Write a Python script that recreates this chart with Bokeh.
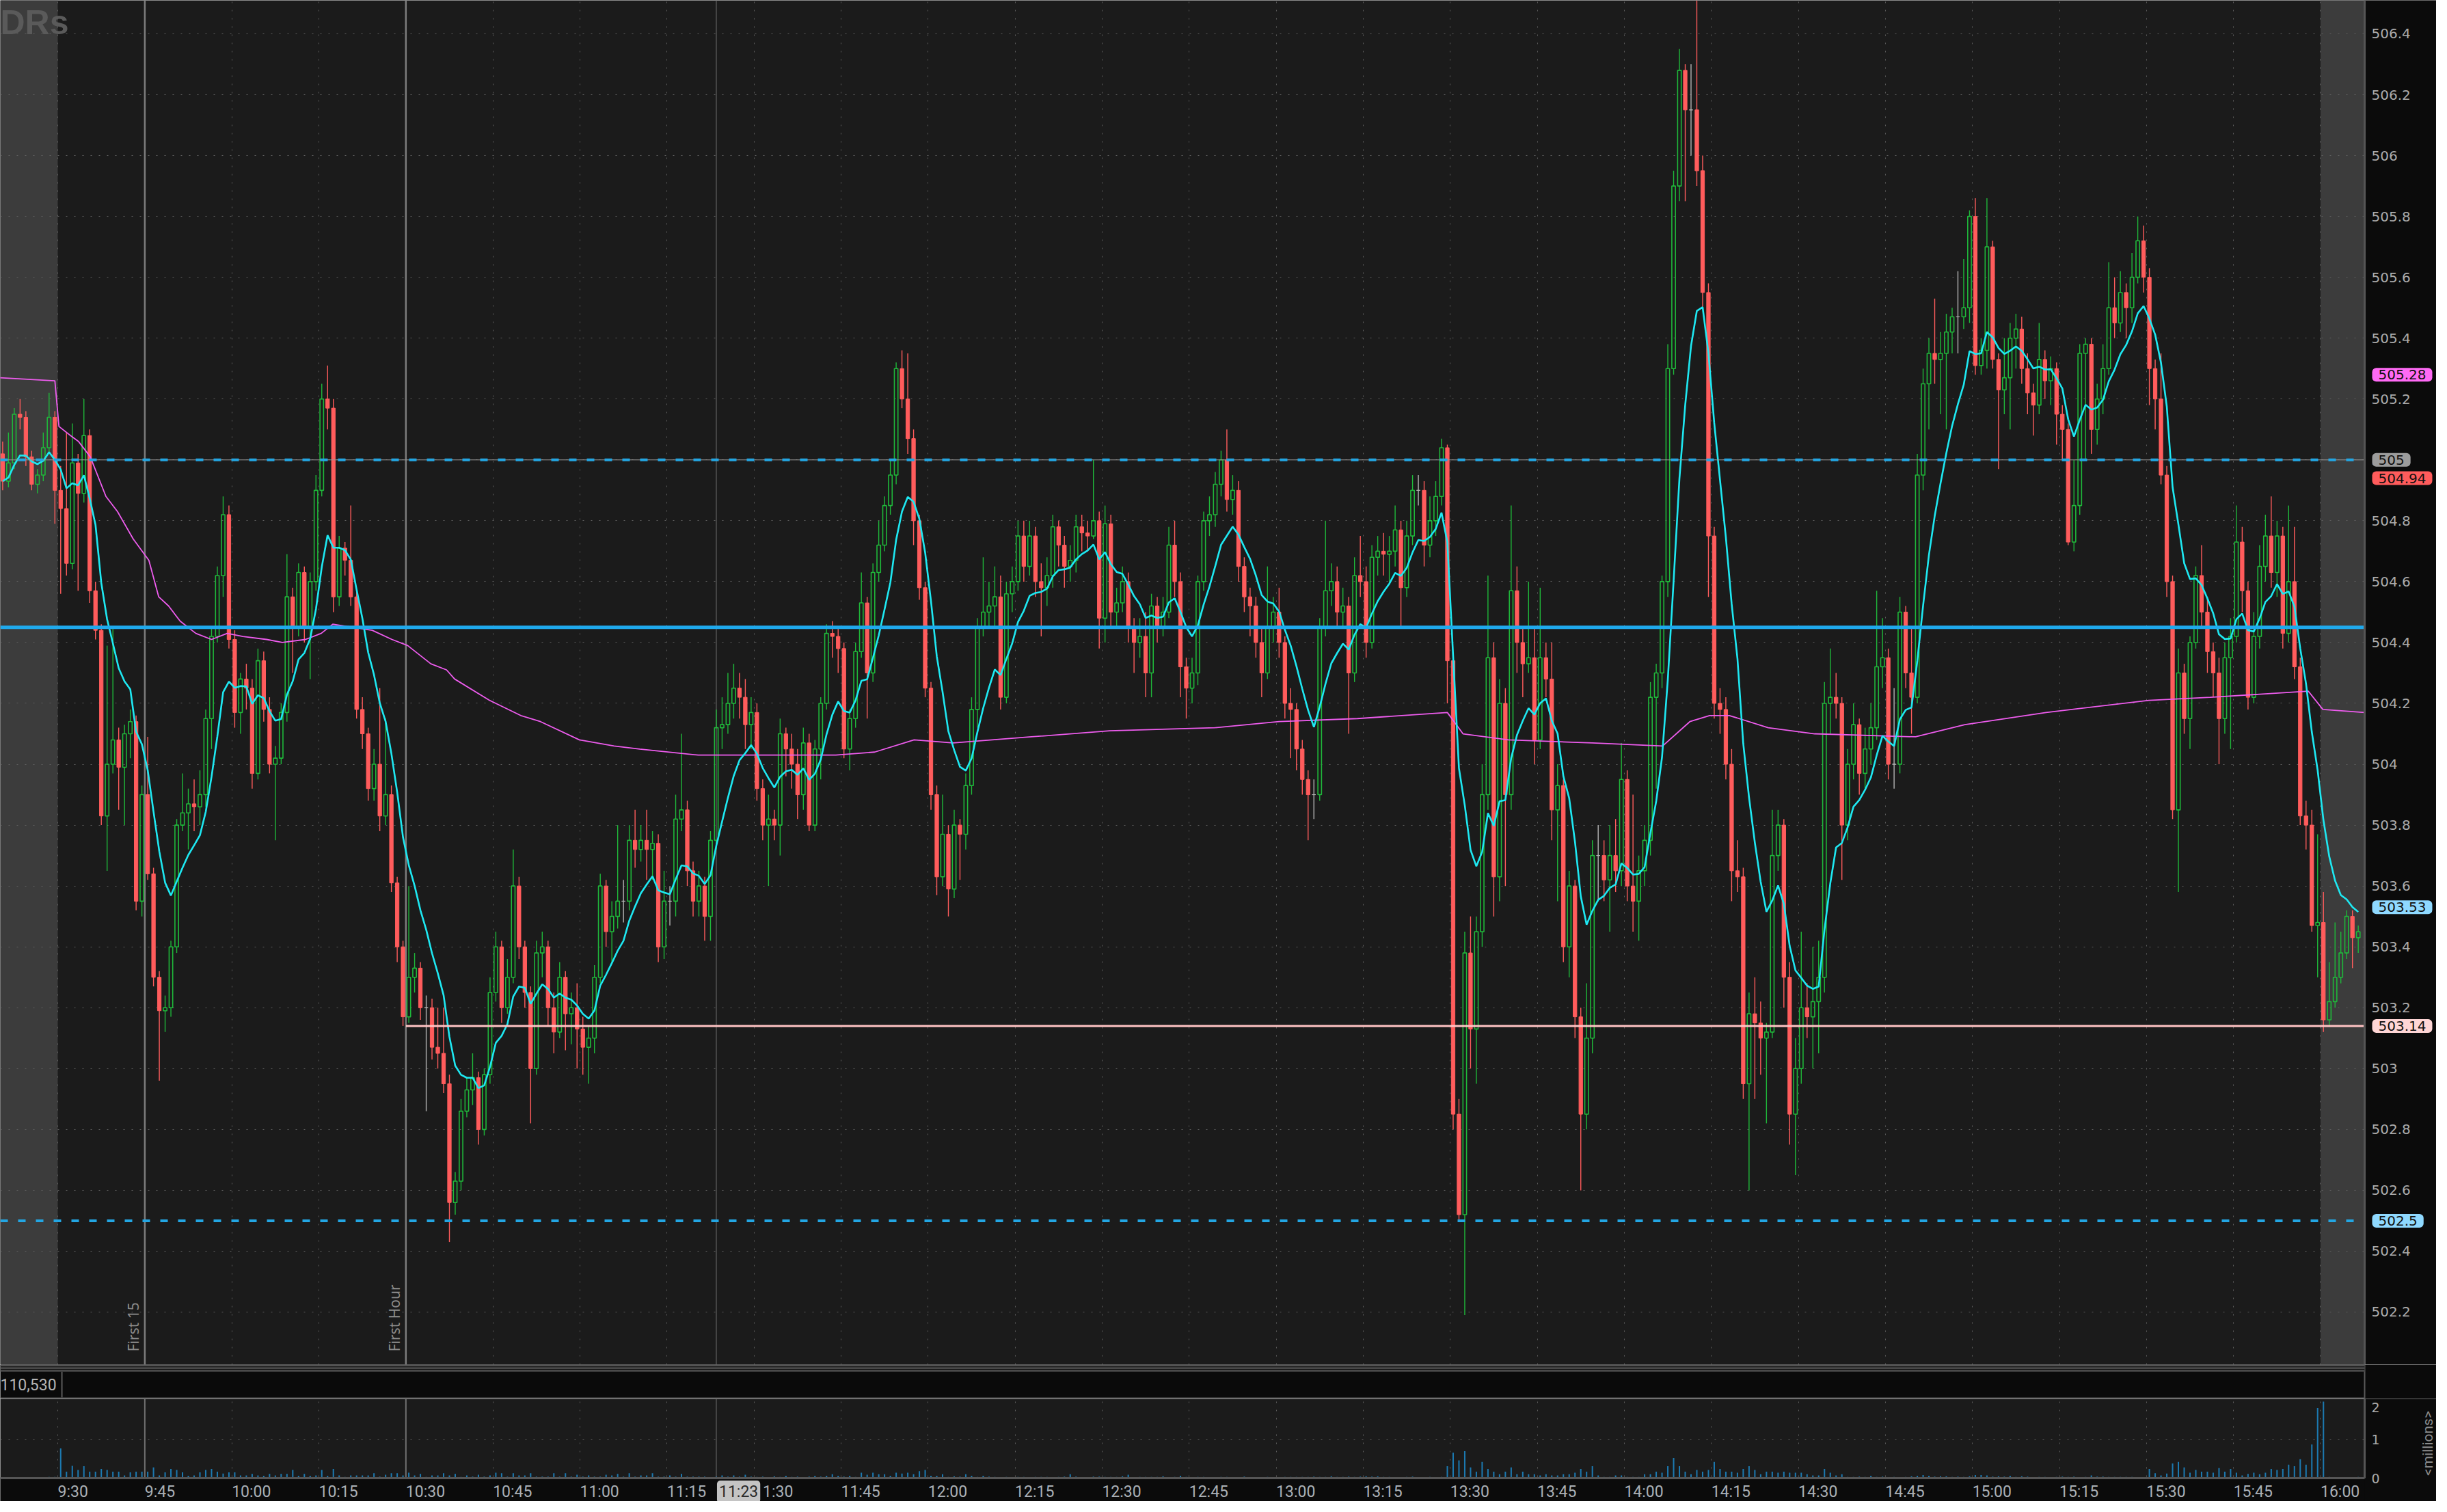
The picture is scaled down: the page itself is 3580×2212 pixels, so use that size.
import math
from bokeh.plotting import figure
from bokeh.layouts import column
from bokeh.models import (ColumnDataSource, FixedTicker, Span, Label, LabelSet,
                          BoxAnnotation, Range1d)
from bokeh.embed import file_html
from bokeh.resources import INLINE
from bokeh.core.properties import value

# ---------------- data (1-minute bars, minutes relative to 9:30) ----------------
first_minute = -10
first_open = 505.02

closes = [
    504.93, 504.99, 505.15, 505.14, 505.01, 504.92, 504.95, 505.04, 505.14, 504.90,
    504.84, 504.66, 504.99, 504.89, 505.08, 504.57, 504.44, 503.83, 504.00, 504.08,
    503.99, 504.10, 504.14, 503.55, 503.90, 503.64, 503.30, 503.19, 503.20, 503.40,
    503.80, 503.84, 503.87, 503.86, 503.90, 504.15, 504.42, 504.62, 504.82, 504.41,
    504.17, 504.28, 504.25, 503.97, 504.34, 504.18, 504.00, 504.02, 504.17, 504.55,
    504.45, 504.63, 504.45, 504.60, 504.90, 505.20, 505.17, 504.55, 504.71, 504.67,
    504.55, 504.18, 504.10, 503.92, 504.00, 503.83, 503.90, 503.61, 503.40, 503.17,
    503.30, 503.33, 503.20, 503.20, 503.07, 503.05, 502.95, 502.56, 502.63, 502.86,
    502.93, 502.97, 502.80, 502.98, 503.25, 503.40, 503.20, 503.30, 503.60, 503.40,
    503.25, 503.00, 503.38, 503.40, 503.20, 503.12, 503.30, 503.18, 503.20, 503.13,
    503.07, 503.10, 503.30, 503.60, 503.45, 503.50, 503.55, 503.55, 503.75, 503.72,
    503.75, 503.72, 503.74, 503.40, 503.55, 503.55, 503.82, 503.85, 503.65, 503.55,
    503.60, 503.50, 503.75, 504.12, 504.13, 504.20, 504.25, 504.22, 504.13, 504.17,
    503.92, 503.80, 503.82, 503.80, 504.10, 504.05, 504.00, 503.90, 504.07, 503.80,
    504.05, 504.20, 504.43, 504.42, 504.38, 504.05, 504.15, 504.37, 504.53, 504.30,
    504.63, 504.72, 504.85, 504.95, 505.30, 505.20, 505.07, 504.80, 504.58, 504.25,
    503.90, 503.63, 503.77, 503.59, 503.80, 503.77, 503.93, 504.18, 504.45, 504.50,
    504.52, 504.55, 504.22, 504.56, 504.60, 504.75, 504.65, 504.75, 504.60, 504.58,
    504.62, 504.78, 504.72, 504.65, 504.67, 504.78, 504.76, 504.75, 504.80, 504.48,
    504.79, 504.50, 504.53, 504.60, 504.45, 504.40, 504.42, 504.30, 504.52, 504.45,
    504.50, 504.72, 504.60, 504.32, 504.25, 504.30, 504.60, 504.80, 504.82, 504.92,
    505.00, 504.87, 504.90, 504.65, 504.55, 504.52, 504.40, 504.30, 504.45, 504.50,
    504.40, 504.20, 504.18, 504.05, 503.95, 503.90, 503.90, 504.45, 504.57, 504.60,
    504.50, 504.52, 504.30, 504.62, 504.60, 504.40, 504.68, 504.70, 504.69, 504.70,
    504.77, 504.58, 504.75, 504.90, 504.90, 504.72, 504.80, 504.88, 505.04, 504.34,
    502.85, 502.52, 503.38, 503.13, 503.45, 503.90, 504.35, 503.63, 504.20, 503.90,
    504.57, 504.40, 504.33, 504.35, 504.08, 504.35, 504.28, 503.85, 503.93, 503.40,
    503.60, 503.17, 502.85, 503.10, 503.70, 503.70, 503.62, 503.70, 503.65, 503.95,
    503.60, 503.55, 503.65, 503.75, 504.22, 504.30, 504.60, 505.30, 505.90, 506.28,
    506.15, 506.15, 505.95, 505.55, 504.75, 504.20, 504.18, 504.00, 503.65, 503.63,
    502.95, 503.18, 503.15, 503.10, 503.12, 503.70, 503.80, 503.30, 502.85, 503.00,
    503.20, 503.17, 503.22, 503.30, 504.20, 504.22, 504.20, 503.80, 504.00, 504.13,
    503.97, 504.05, 504.12, 504.32, 504.35, 504.00, 504.00, 504.50, 504.30, 504.22,
    504.95, 505.25, 505.35, 505.33, 505.35, 505.42, 505.47, 505.47, 505.50, 505.80,
    505.31, 505.36, 505.70, 505.33, 505.23, 505.27, 505.40, 505.43, 505.30, 505.22,
    505.18, 505.33, 505.26, 505.30, 505.15, 505.10, 504.73, 504.85, 505.35, 505.38,
    505.10, 505.20, 505.30, 505.50, 505.45, 505.55, 505.50, 505.60, 505.72, 505.60,
    505.30, 505.20, 504.95, 504.60, 503.85, 504.30, 504.15, 504.40, 504.62, 504.50,
    504.37, 504.30, 504.15, 504.35, 504.42, 504.73, 504.57, 504.22, 504.42, 504.65,
    504.75, 504.63, 504.75, 504.43, 504.60, 504.32, 503.83, 503.80, 503.47, 503.48,
    503.16, 503.22, 503.30, 503.38, 503.50, 503.43, 503.45,
]

highs = [
    505.06, 505.09, 505.17, 505.20, 505.16, 505.03, 504.97, 505.09, 505.22, 505.16,
    504.98, 505.09, 505.12, 505.02, 505.20, 505.10, 504.60, 504.46, 504.39, 504.45,
    504.12, 504.13, 504.18, 504.16, 503.93, 504.09, 503.66, 503.32, 503.24, 503.42,
    503.82, 503.97, 503.92, 503.95, 503.98, 504.18, 504.45, 504.65, 504.88, 504.85,
    504.44, 504.30, 504.33, 504.28, 504.38, 504.37, 504.22, 504.06, 504.20, 504.69,
    504.58, 504.66, 504.65, 504.63, 504.95, 505.25, 505.31, 505.20, 504.75, 504.73,
    504.85, 504.57, 504.22, 504.12, 504.05, 504.25, 504.15, 503.93, 503.63, 503.42,
    503.60, 503.38, 503.35, 503.24, 503.23, 503.20, 503.20, 502.98, 502.66, 502.90,
    502.97, 503.05, 502.99, 503.00, 503.30, 503.45, 503.42, 503.36, 503.72, 503.63,
    503.42, 503.27, 503.42, 503.45, 503.42, 503.25, 503.35, 503.32, 503.25, 503.28,
    503.17, 503.14, 503.34, 503.64, 503.62, 503.55, 503.80, 503.62, 503.80, 503.85,
    503.80, 503.85, 503.78, 503.77, 503.65, 503.60, 503.90, 504.10, 503.88, 503.68,
    503.65, 503.63, 503.78, 504.18, 504.22, 504.30, 504.33, 504.30, 504.28, 504.22,
    504.20, 503.95, 503.90, 503.85, 504.15, 504.12, 504.10, 504.05, 504.12, 504.10,
    504.08, 504.22, 504.46, 504.47, 504.45, 504.40, 504.18, 504.40, 504.63, 504.55,
    504.66, 504.80, 504.88, 505.00, 505.32, 505.36, 505.35, 505.10, 504.82, 504.60,
    504.27, 503.93, 503.90, 503.80, 503.85, 503.82, 503.97, 504.22, 504.48, 504.68,
    504.60, 504.65, 504.62, 504.60, 504.65, 504.80, 504.80, 504.80, 504.78, 504.66,
    504.68, 504.82, 504.80, 504.75, 504.72, 504.82, 504.82, 504.80, 505.00, 504.83,
    504.85, 504.82, 504.58, 504.65, 504.63, 504.48, 504.48, 504.50, 504.56, 504.55,
    504.55, 504.78, 504.80, 504.63, 504.35, 504.35, 504.62, 504.83, 504.88, 504.96,
    505.03, 505.10, 504.95, 504.93, 504.68, 504.58, 504.55, 504.45, 504.65, 504.55,
    504.58, 504.42, 504.25, 504.20, 504.08, 503.98, 503.95, 504.48, 504.80, 504.66,
    504.65, 504.58, 504.55, 504.68, 504.75, 504.65, 504.72, 504.75, 504.76, 504.75,
    504.85, 504.80, 504.80, 504.95, 504.95, 504.93, 504.88, 504.93, 505.07, 505.05,
    504.36, 502.90, 503.45, 503.50, 503.50, 504.00, 504.62, 504.40, 504.28, 504.25,
    504.85, 504.65, 504.45, 504.60, 504.45, 504.58, 504.40, 504.40, 504.00, 503.95,
    503.65, 503.62, 503.20, 503.28, 503.75, 503.80, 503.75, 503.80, 503.82, 504.07,
    503.98, 503.90, 503.70, 503.80, 504.27, 504.33, 504.62, 505.38, 505.95, 506.35,
    506.30, 506.30, 506.51, 506.00, 505.58, 504.78, 504.25, 504.22, 504.05, 503.75,
    503.66, 503.25, 503.30, 503.22, 503.15, 503.85, 503.85, 503.82, 503.35, 503.10,
    503.45, 503.28, 503.40, 503.42, 504.27, 504.38, 504.30, 504.22, 504.05, 504.20,
    504.15, 504.12, 504.20, 504.57, 504.48, 504.38, 504.25, 504.55, 504.52, 504.45,
    505.02, 505.30, 505.40, 505.53, 505.42, 505.48, 505.50, 505.62, 505.66, 505.82,
    505.86, 505.40, 505.86, 505.72, 505.35, 505.40, 505.45, 505.48, 505.47, 505.35,
    505.25, 505.45, 505.36, 505.34, 505.32, 505.18, 505.12, 505.00, 505.38, 505.40,
    505.40, 505.25, 505.38, 505.65, 505.60, 505.62, 505.58, 505.68, 505.80, 505.77,
    505.63, 505.33, 505.35, 504.98, 504.62, 504.38, 504.33, 504.42, 504.65, 504.72,
    504.55, 504.40, 504.35, 504.40, 504.48, 504.85, 504.78, 504.60, 504.50, 504.72,
    504.82, 504.88, 504.80, 504.78, 504.85, 504.78, 504.35, 503.88, 503.85, 503.77,
    503.58, 503.35, 503.48, 503.45, 503.52, 503.52, 503.47,
]

lows = [
    504.90, 504.91, 504.97, 505.10, 504.98, 504.90, 504.89, 504.93, 505.02, 504.79,
    504.56, 504.62, 504.64, 504.57, 504.86, 504.53, 504.41, 503.80, 503.65, 503.97,
    503.85, 503.80, 504.02, 503.52, 503.50, 503.62, 503.27, 502.96, 503.12, 503.17,
    503.38, 503.78, 503.72, 503.78, 503.80, 503.86, 504.05, 504.40, 504.55, 504.38,
    504.12, 504.10, 504.18, 503.92, 503.95, 504.14, 503.97, 503.75, 504.00, 504.14,
    504.30, 504.42, 504.40, 504.28, 504.57, 504.88, 505.10, 504.50, 504.52, 504.62,
    504.52, 504.15, 504.05, 503.88, 503.88, 503.78, 503.80, 503.58, 503.35, 503.14,
    503.15, 503.25, 503.16, 502.86, 503.03, 503.00, 502.92, 502.43, 502.52, 502.60,
    502.84, 502.88, 502.75, 502.78, 502.95, 503.22, 503.15, 503.18, 503.28, 503.36,
    503.20, 502.82, 502.98, 503.30, 503.14, 503.05, 503.10, 503.06, 503.08, 503.00,
    502.98, 502.95, 503.05, 503.28, 503.40, 503.35, 503.46, 503.48, 503.52, 503.66,
    503.68, 503.62, 503.62, 503.35, 503.36, 503.47, 503.50, 503.78, 503.60, 503.50,
    503.50, 503.42, 503.42, 503.72, 504.05, 504.10, 504.15, 504.15, 504.05, 504.05,
    503.88, 503.75, 503.60, 503.75, 503.70, 503.96, 503.92, 503.82, 503.85, 503.78,
    503.78, 503.95, 504.18, 504.35, 504.30, 504.02, 503.98, 504.12, 504.35, 504.15,
    504.27, 504.60, 504.70, 504.82, 504.92, 505.17, 505.02, 504.72, 504.54, 504.22,
    503.85, 503.57, 503.60, 503.50, 503.56, 503.62, 503.72, 503.90, 504.12, 504.42,
    504.45, 504.45, 504.18, 504.20, 504.50, 504.57, 504.60, 504.62, 504.55, 504.42,
    504.52, 504.58, 504.65, 504.58, 504.60, 504.63, 504.70, 504.70, 504.74, 504.38,
    504.40, 504.45, 504.45, 504.50, 504.40, 504.30, 504.35, 504.22, 504.22, 504.40,
    504.42, 504.48, 504.55, 504.22, 504.15, 504.20, 504.26, 504.57, 504.75, 504.78,
    504.88, 504.83, 504.82, 504.60, 504.50, 504.42, 504.35, 504.22, 504.28, 504.40,
    504.35, 504.15, 504.02, 503.98, 503.90, 503.75, 503.82, 503.88, 504.42, 504.52,
    504.45, 504.45, 504.10, 504.27, 504.55, 504.35, 504.38, 504.62, 504.62, 504.60,
    504.65, 504.45, 504.55, 504.72, 504.85, 504.65, 504.68, 504.75, 504.85, 504.20,
    502.80, 502.50, 502.19, 503.00, 502.95, 503.40, 503.85, 503.50, 503.55, 503.60,
    503.85, 504.30, 504.22, 504.30, 504.00, 504.05, 504.22, 503.75, 503.55, 503.35,
    503.30, 503.10, 502.60, 502.80, 503.05, 503.55, 503.55, 503.45, 503.58, 503.60,
    503.55, 503.45, 503.42, 503.60, 503.70, 503.92, 504.25, 504.55, 505.28, 505.85,
    505.85, 506.00, 505.90, 505.50, 504.55, 504.15, 504.10, 503.95, 503.55, 503.58,
    502.90, 502.60, 502.90, 502.98, 502.82, 503.10, 503.65, 503.20, 502.75, 502.65,
    502.95, 503.10, 503.00, 503.05, 503.25, 504.10, 504.15, 503.62, 503.75, 503.95,
    503.90, 503.92, 504.00, 504.08, 504.25, 503.95, 503.92, 503.97, 504.25, 504.10,
    504.20, 504.90, 505.10, 505.25, 505.15, 505.10, 505.35, 505.35, 505.43, 505.45,
    505.28, 505.28, 505.30, 505.30, 504.97, 505.15, 505.10, 505.30, 505.25, 505.15,
    505.08, 505.15, 505.20, 505.18, 505.05, 505.00, 504.72, 504.70, 504.82, 505.00,
    505.02, 505.05, 505.15, 505.28, 505.40, 505.42, 505.40, 505.45, 505.58, 505.55,
    505.18, 505.10, 504.92, 504.55, 503.82, 503.58, 504.10, 504.05, 504.38, 504.45,
    504.30, 504.22, 504.00, 504.10, 504.05, 504.40, 504.50, 504.18, 504.20, 504.38,
    504.60, 504.58, 504.55, 504.38, 504.40, 504.28, 503.80, 503.72, 503.45, 503.30,
    503.12, 503.14, 503.20, 503.28, 503.36, 503.33, 503.38,
]

# volume in units of 10,000 shares (i.e. hundredths of a million)
volume_10k = [
    1, 1, 1, 1, 1, 2, 1, 1, 3, 3,
    77, 17, 32, 21, 31, 17, 17, 24, 21, 17, 17, 7, 15, 17, 17,
    17, 28, 7, 15, 24, 21, 15, 6, 7, 15, 21, 24, 17, 12, 15,
    15, 7, 7, 11, 7, 6, 11, 7, 11, 11, 21, 6, 11, 6, 7,
    21, 6, 24, 7, 3, 7, 7, 7, 7, 13, 4, 9, 13, 13, 7,
    14, 7, 11, 3, 7, 7, 13, 7, 11, 3, 7, 4, 9, 4, 7,
    14, 13, 4, 13, 7, 7, 13, 4, 4, 4, 13, 4, 13, 4, 9,
    4, 7, 4, 4, 9, 7, 11, 4, 13, 4, 7, 7, 13, 4, 4,
    7, 4, 11, 4, 4, 4, 4, 2, 4, 7, 4, 7, 4, 9, 4,
    3, 4, 2, 5, 3, 6, 3, 4, 2, 4, 6, 4, 6, 10, 6,
    4, 6, 3, 14, 9, 14, 10, 10, 6, 14, 12, 14, 10, 18, 21,
    6, 6, 10, 3, 5, 4, 10, 6, 3, 6, 4, 3, 2, 3, 2,
    3, 3, 2, 3, 3, 3, 2, 3, 4, 10, 4, 2, 2, 4, 4,
    3, 3, 3, 5, 9, 2, 3, 3, 3, 3, 5, 2, 3, 6, 3,
    2, 3, 3, 2, 2, 3, 3, 2, 2, 4, 2, 2, 2, 3, 2,
    2, 3, 3, 3, 3, 3, 4, 3, 3, 5, 3, 3, 4, 3, 4,
    5, 4, 5, 3, 3, 2, 2, 3, 4, 2, 2, 3, 2, 3,
    31, 66, 46, 70, 28, 17, 42, 24, 17, 10, 17, 28, 10, 17, 10, 10,
    7, 10, 7, 7, 10, 10, 14, 24, 17, 31, 7, 3, 3, 7, 7,
    3, 3, 3, 10, 10, 17, 14, 31, 52, 31, 17, 10, 21, 17, 21,
    42, 24, 17, 17, 14, 24, 31, 21, 10, 17, 17, 14, 17, 14, 14,
    14, 10, 7, 7, 24, 14, 7, 10, 3, 3, 4, 3, 6, 3, 4,
    2, 3, 2, 3, 5, 6, 8, 6, 4, 5, 5, 3, 4, 3, 5,
    8, 8, 7, 4, 5, 4, 6, 3, 5, 4, 2, 3, 3, 2, 3,
    4, 3, 4, 2, 3, 7, 4, 4, 3, 3, 3, 3, 3, 2, 2,
    24, 13, 7, 12, 38, 42, 28, 14, 21, 17, 17, 14, 26, 17, 24,
    14, 7, 11, 14, 10, 14, 24, 21, 24,
    35, 31, 49, 35, 87, 181, 198,
    3, 1, 1, 1, 1, 3,
]

# magenta session line (read at knots along the trace)
vwap_t = [-10, -0.5, 0.2, 2.2, 3.6, 5.6, 8.3, 10.3, 13, 15.7, 17.4, 19.1, 21.1, 23.8,
          26.5, 29.2, 31.9, 36, 38.7, 42.7, 45.4, 47.4, 50.8, 54.2, 57.6, 60.3, 64.3,
          67, 68.4, 74.4, 79.8, 83.2, 89.9, 95.9, 100.3, 110.4, 134.1, 140.8, 147.6,
          154.3, 167.8, 181.3, 199.4, 210.5, 224, 239.5, 242.2, 250, 264.5, 276.6,
          281.3, 284.7, 288.1, 294.8, 302.8, 320.2, 328.7, 342.7, 360.4, 371, 387.9,
          390.4, 397.6]
vwap_v = [505.27, 505.26, 505.11, 505.08, 505.06, 505.01, 504.88, 504.83, 504.74, 504.67,
          504.55, 504.52, 504.47, 504.43, 504.41, 504.43, 504.42, 504.41, 504.40, 504.41,
          504.43, 504.46, 504.45, 504.44, 504.41, 504.39, 504.33, 504.31, 504.28, 504.21,
          504.16, 504.14, 504.08, 504.06, 504.05, 504.03, 504.03, 504.04, 504.08, 504.07,
          504.09, 504.11, 504.12, 504.14, 504.15, 504.17, 504.10, 504.08, 504.07, 504.06,
          504.14, 504.16, 504.16, 504.12, 504.10, 504.09, 504.13, 504.17, 504.21, 504.22,
          504.24, 504.18, 504.17]

price_ticks = [502.2, 502.4, 502.6, 502.8, 503.0, 503.2, 503.4, 503.6, 503.8, 504.0, 504.2,
               504.4, 504.6, 504.8, 505.0, 505.2, 505.4, 505.6, 505.8, 506.0, 506.2, 506.4]
price_tick_labels = ["502.2", "502.4", "502.6", "502.8", "503", "503.2", "503.4", "503.6",
                     "503.8", "504", "504.2", "504.4", "504.6", "504.8", "505", "505.2",
                     "505.4", "505.6", "505.8", "506", "506.2", "506.4"]
time_ticks = [0, 15, 30, 45, 60, 75, 90, 105, 120, 135, 150, 165, 180, 195, 210, 225, 240,
              255, 270, 285, 300, 315, 330, 345, 360, 375, 390]
time_labels = ["9:30", "9:45", "10:00", "10:15", "10:30", "10:45", "11:00", "11:15", "11:30",
               "11:45", "12:00", "12:15", "12:30", "12:45", "13:00", "13:15", "13:30", "13:45",
               "14:00", "14:15", "14:30", "14:45", "15:00", "15:15", "15:30", "15:45", "16:00"]
vol_ticks = [0, 1, 2]
vol_tick_labels = ["0", "1", "2"]

level_upper = 505.00
level_mid = 504.45
level_lower = 502.50
level_pivot = 503.14
pivot_start = 60
first15_t = 15
firsthour_t = 60
cursor_t = 113.5
session_close_t = 390
ema_span = 9

tags = [(505.28, "505.28", "#ff6af5"), (505.00, "505", "#9c9c9c"),
        (504.94, "504.94", "#ff5c5c"), (503.53, "503.53", "#8fd9ff"),
        (503.14, "503.14", "#ffd6d6"), (502.50, "502.5", "#8fd9ff")]

n = len(closes)
assert len(highs) == n and len(lows) == n and len(volume_10k) == n, (len(highs), len(lows), len(volume_10k), n)

minutes = list(range(first_minute, first_minute + n))
xs = [m + 0.5 for m in minutes]
opens = [first_open] + closes[:-1]

alpha = 2.0 / (ema_span + 1)
ema = []
e = closes[0]
for c in closes:
    e = e + alpha * (c - e)
    ema.append(e)

UP = "#1fb83a"
DOWN = "#ff5c5c"
DOJI = "#b4b4b4"
colors = [UP if c > o else (DOWN if c < o else DOJI) for o, c in zip(opens, closes)]
src = ColumnDataSource(dict(x=xs, o=opens, c=closes, h=highs, l=lows, col=colors,
                            top=[max(a, b) for a, b in zip(opens, closes)],
                            bot=[min(a, b) for a, b in zip(opens, closes)]))
up_idx = [i for i in range(n) if colors[i] == UP]
dn_idx = [i for i in range(n) if colors[i] != UP]


def sub(idx):
    d = src.data
    return ColumnDataSource({k: [d[k][i] for i in idx] for k in d})


W = 3564
AX = 397.6            # position of the price axis line (minutes)
XR = Range1d(-9.9, 409.97)
PLOT_BG = "#1b1b1b"
AXIS_BG = "#0b0b0b"
AXIS_LINE = "#555555"
TICK_TXT = "#ababab"


def base_fig(h, yr, bg):
    f = figure(width=W, height=h, x_range=XR, y_range=yr, output_backend="svg",
               toolbar_location=None, x_axis_location=None, y_axis_location=None,
               min_border_left=0, min_border_top=0, min_border_bottom=0, min_border_right=0)
    f.background_fill_color = bg
    f.border_fill_color = AXIS_BG
    f.outline_line_color = None
    return f


# ---------------- main price pane ----------------
YLO, YHI = 502.027, 506.51
p = base_fig(1996, Range1d(YLO, YHI), PLOT_BG)

p.add_layout(BoxAnnotation(right=0, fill_color="#3c3c3c", fill_alpha=1, line_color=None, level="image"))
p.add_layout(BoxAnnotation(left=session_close_t, right=AX, fill_color="#3c3c3c", fill_alpha=1,
                           line_color=None, level="image"))

p.xgrid.ticker = FixedTicker(ticks=time_ticks)
p.ygrid.ticker = FixedTicker(ticks=price_ticks)
for g in (p.xgrid, p.ygrid):
    g.grid_line_color = "#5e5e5e"
    g.grid_line_dash = "2 10"
    g.grid_line_width = 1

for t, w, c in ((first15_t, 2.5, "#7c7c7c"), (firsthour_t, 2.5, "#7c7c7c"), (cursor_t, 1.2, "#646464")):
    p.add_layout(Span(location=t, dimension="height", line_color=c, line_width=w, level="underlay"))

# candles
s_up, s_dn = sub(up_idx), sub(dn_idx)
p.segment(x0="x", y0="h", x1="x", y1="l", source=s_dn, line_color="col", line_width=1.4)
p.segment(x0="x", y0="h", x1="x", y1="top", source=s_up, line_color="col", line_width=1.4)
p.segment(x0="x", y0="bot", x1="x", y1="l", source=s_up, line_color="col", line_width=1.4)
p.vbar(x="x", width=0.62, top="top", bottom="bot", source=s_dn, fill_color="col", line_color="col", line_width=1)
p.vbar(x="x", width=0.62, top="top", bottom="bot", source=s_up, fill_alpha=0.0,
       line_color="col", line_width=1.6)

# studies
p.line(vwap_t, vwap_v, line_color="#ee5cee", line_width=1.8)
p.line(xs, ema, line_color="#1ee8f2", line_width=2.6)

# levels (stop at the price axis)
x0 = XR.start
p.segment(x0=[x0], y0=[level_upper], x1=[AX], y1=[level_upper], line_color="#9a9a9a", line_width=1)
p.segment(x0=[x0, x0], y0=[level_upper, level_lower], x1=[AX, AX], y1=[level_upper, level_lower],
          line_color="#23a6e3", line_width=4, line_dash="11 15")
p.segment(x0=[x0], y0=[level_mid], x1=[AX], y1=[level_mid], line_color="#1fa9ec", line_width=5)
p.segment(x0=[pivot_start], y0=[level_pivot], x1=[AX], y1=[level_pivot], line_color="#ffc4c4", line_width=3)

# price-axis area (right side)
p.add_layout(BoxAnnotation(left=AX, fill_color=AXIS_BG, fill_alpha=1, line_color=None, level="guide"))
p.add_layout(Span(location=AX, dimension="height", line_color=AXIS_LINE, line_width=3))
p.add_layout(LabelSet(x="x", y="y", text="t", x_offset=10,
                      source=ColumnDataSource(dict(x=[AX] * len(price_ticks), y=price_ticks, t=price_tick_labels)),
                      text_align="left", text_baseline="middle", text_color=TICK_TXT,
                      text_font=value("DejaVu Sans"), text_font_size="20px"))
for yv, txt, col in tags:
    p.add_layout(Label(x=AX, y=yv, text=txt, text_align="left", text_baseline="middle",
                       x_offset=11, text_color="#111111", text_font="DejaVu Sans",
                       text_font_size="20px", background_fill_color=col,
                       border_line_color=None, padding=(9, 3), border_radius=6))

# texts
p.add_layout(Label(x=first15_t, y=502.07, text="First 15", angle=math.pi / 2, text_align="left",
                   text_baseline="bottom", x_offset=-3, text_color="#8c8c8c",
                   text_font="Noto Sans", text_font_size="21px"))
p.add_layout(Label(x=firsthour_t, y=502.07, text="First Hour", angle=math.pi / 2, text_align="left",
                   text_baseline="bottom", x_offset=-3, text_color="#8c8c8c",
                   text_font="Noto Sans", text_font_size="21px"))
p.add_layout(Label(x=XR.start, y=YHI, text="DRs", text_align="left", text_baseline="top",
                   x_offset=0, y_offset=-4, text_color="#5a5a5a", text_font="Liberation Sans",
                   text_font_style="bold", text_font_size="50px"))

# ---------------- separator strip ----------------
s = base_fig(50, Range1d(50, 0), "#0a0a0a")
s.grid.visible = False
s.add_layout(BoxAnnotation(top=0, bottom=10, right=AX, fill_color=PLOT_BG, fill_alpha=1, line_color=None))
for a, b in ((0, 2), (4, 6), (8, 10), (48, 50)):
    s.add_layout(BoxAnnotation(top=a, bottom=b, right=AX, fill_color="#5a5a5a", fill_alpha=1, line_color=None))
s.segment(x0=[0.71, AX], y0=[10, 0], x1=[0.71, AX], y1=[48, 50], line_color="#5a5a5a", line_width=2)
s.add_layout(Label(x=XR.start, y=29, text="110,530", text_align="left", text_baseline="middle",
                   text_color="#b4b4b4", text_font="Roboto", text_font_size="23px"))

# ---------------- volume pane ----------------
VTOP = 2.05
VBOT = -34 * VTOP / 116.0
v = base_fig(150, Range1d(VBOT, VTOP), PLOT_BG)
v.xgrid.ticker = FixedTicker(ticks=time_ticks)
v.ygrid.ticker = FixedTicker(ticks=[1])
for g in (v.xgrid, v.ygrid):
    g.grid_line_color = "#5e5e5e"
    g.grid_line_dash = "2 10"
for t, w, c in ((first15_t, 2, "#707070"), (firsthour_t, 2, "#707070"), (cursor_t, 1.2, "#646464")):
    v.add_layout(Span(location=t, dimension="height", line_color=c, line_width=w, level="underlay"))

vol_m = [q / 100.0 for q in volume_10k]
v.vbar(x=xs, width=0.24, top=vol_m, bottom=0, fill_color="#1c79b0", line_color=None)

# axis areas
v.add_layout(BoxAnnotation(top=0, fill_color=AXIS_BG, fill_alpha=1, line_color=None, level="guide"))
v.add_layout(BoxAnnotation(left=AX, fill_color=AXIS_BG, fill_alpha=1, line_color=None, level="guide"))
v.segment(x0=[XR.start, AX], y0=[0, 0], x1=[AX, AX], y1=[0, VTOP], line_color=AXIS_LINE,
          line_width=3, level="annotation")
for tv, tl in zip(vol_ticks, vol_tick_labels):
    v.add_layout(Label(x=AX, y=min(tv, VTOP), text=tl, x_offset=10,
                       y_offset=(-3 if tv >= 2 else 0),
                       text_align="left", text_baseline=("top" if tv >= 2 else "middle"),
                       text_color=TICK_TXT, text_font="DejaVu Sans", text_font_size="19px"))
ylab = -20 * VTOP / 116.0
v.add_layout(LabelSet(x="x", y="y", text="t",
                      source=ColumnDataSource(dict(x=time_ticks, y=[ylab] * len(time_ticks), t=time_labels)),
                      text_align="left", text_baseline="middle", text_color="#aab0b6",
                      text_font=value("Roboto"), text_font_size="23px"))
v.add_layout(Label(x=cursor_t, y=ylab, text="11:23", text_align="left", text_baseline="middle",
                   x_offset=1, text_color="#2a2a2a", text_font="Roboto", text_font_size="23px",
                   background_fill_color="#c4c4c4", border_line_color=None, padding=(3, 3),
                   border_radius=5))
v.add_layout(Label(x=XR.end, y=0.9, text="<millions>", angle=math.pi / 2, text_align="center",
                   text_baseline="middle", x_offset=-13, text_color="#8c8c8c",
                   text_font="Roboto", text_font_size="21px"))

layout = column(p, s, v, spacing=0)
open("out.html", "w").write(file_html(layout, INLINE))
